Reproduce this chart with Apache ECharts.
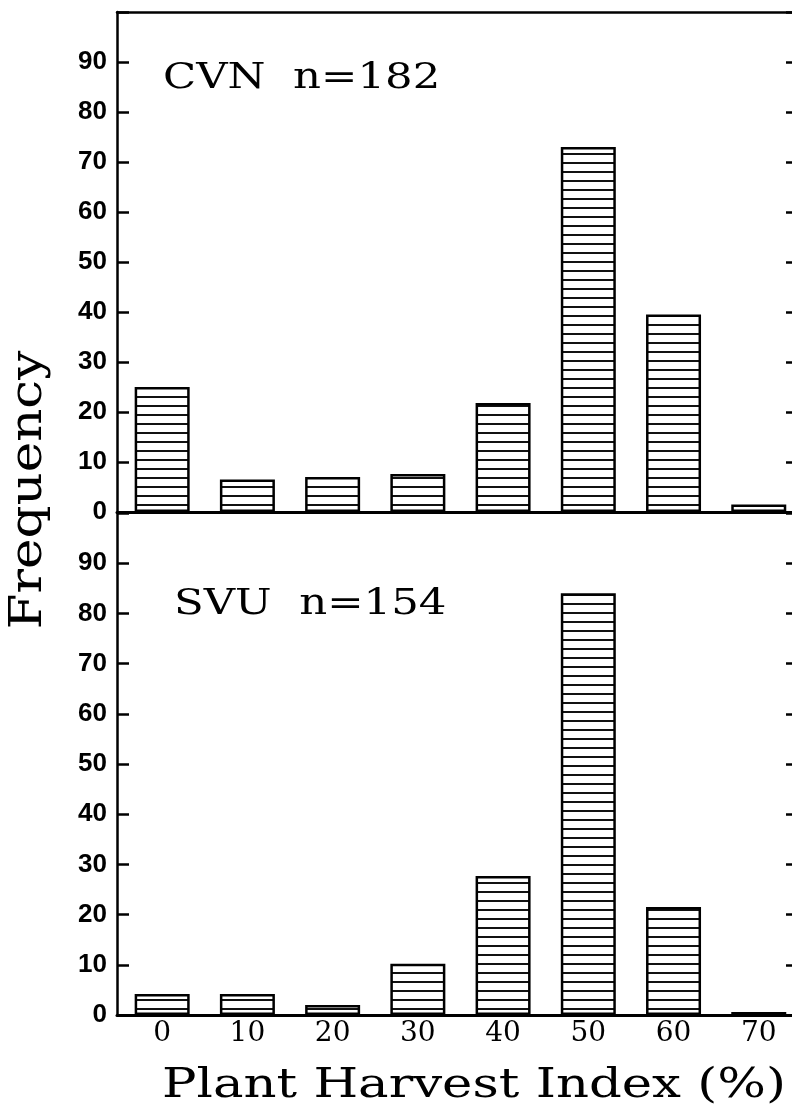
<!DOCTYPE html>
<html>
<head>
<meta charset="utf-8">
<script src="https://cdn.jsdelivr.net/npm/echarts@6/dist/echarts.min.js"></script>
<style>
  html, body { margin: 0; padding: 0; background: #fff; }
  #chart { width: 792px; height: 1104px; }
</style>
</head>
<body>
<div id="chart"></div>
<script>
// harvest index classes (%)
const classes = [0, 10, 20, 30, 40, 50, 60, 70]
const yTicks = [0, 10, 20, 30, 40, 50, 60, 70, 80, 90]
// frequencies
const cvnFreq = [25, 6.5, 7, 7.6, 21.8, 73, 39.5, 1.5]
const svuFreq = [4.2, 4.2, 2, 10.2, 27.7, 84, 21.5, 0.6]
const cvnLabel = 'CVN  n=182'
const svuLabel = 'SVU  n=154'

const chart = echarts.init(document.getElementById('chart'))

// horizontal hatch fill
const makeHatch = () => {
  const c = document.createElement('canvas')
  c.width = 8
  c.height = 9
  const ctx = c.getContext('2d')
  ctx.fillStyle = '#fff'
  ctx.fillRect(0, 0, 8, 9)
  ctx.fillStyle = '#111'
  ctx.fillRect(0, 0, 8, 2)
  return c
}
const hatch = { image: makeHatch(), repeat: 'repeat' }

const serifFont = '"DejaVu Serif", "Liberation Serif", serif'
const sansFont = '"Liberation Sans", Arial, sans-serif'

const xBase = {
  type: 'value',
  min: -5.3,
  max: 73.9,
  splitLine: { show: false },
  axisTick: { show: false },
}

const leftY = {
  type: 'value',
  min: 0,
  max: 100,
  interval: 10,
  splitLine: { show: false },
  axisLine: { show: true, onZero: false, lineStyle: { color: '#000', width: 2.5 } },
  axisTick: { inside: true, length: 12, lineStyle: { color: '#000', width: 2.5 } },
  axisLabel: {
    margin: 10,
    color: '#000',
    fontFamily: sansFont,
    fontWeight: 'bold',
    fontSize: 26,
    formatter: v => (yTicks.includes(v) ? String(v) : ''),
  },
}

const rightY = {
  type: 'value',
  position: 'right',
  min: 0,
  max: 100,
  interval: 10,
  splitLine: { show: false },
  axisLine: { show: false, onZero: false },
  axisTick: { show: true, inside: true, length: 6, lineStyle: { color: '#000', width: 2.5 } },
  axisLabel: { show: false },
}

const barStyle = {
  color: hatch,
  borderColor: '#000',
  borderWidth: 2.5,
}

// stretched serif text, like the typewriter-ish lettering of the original
const label = (text, x, y, size, sx, opts = {}) => ({
  type: 'text',
  x,
  y,
  scaleX: sx,
  rotation: opts.rotation || 0,
  style: {
    text,
    fill: '#000',
    font: size + 'px ' + serifFont,
    align: opts.align || 'left',
    verticalAlign: 'middle',
  },
})

const option = {
  backgroundColor: '#fff',
  animation: false,
  grid: [
    { left: 117, right: 0, top: 12, height: 500 },
    { left: 117, right: 0, top: 513, height: 502 },
  ],
  xAxis: [
    {
      ...xBase,
      gridIndex: 0,
      position: 'bottom',
      axisLine: { show: true, onZero: false, lineStyle: { color: '#000', width: 3 } },
      axisLabel: { show: false },
    },
    {
      ...xBase,
      gridIndex: 0,
      position: 'top',
      axisLine: { show: true, onZero: false, lineStyle: { color: '#000', width: 2.5 } },
      axisLabel: { show: false },
    },
    {
      ...xBase,
      gridIndex: 1,
      position: 'bottom',
      axisLine: { show: true, onZero: false, lineStyle: { color: '#000', width: 3 } },
      axisLabel: {
        customValues: classes,
        margin: 5,
        color: '#000',
        fontFamily: serifFont,
        fontSize: 28,
        formatter: v => String(v),
      },
    },
  ],
  yAxis: [
    { ...leftY, gridIndex: 0 },
    { ...rightY, gridIndex: 0 },
    { ...leftY, gridIndex: 1 },
    { ...rightY, gridIndex: 1 },
  ],
  series: [
    {
      type: 'bar',
      xAxisIndex: 0,
      yAxisIndex: 0,
      barWidth: 55,
      itemStyle: barStyle,
      data: classes.map((c, i) => [c, cvnFreq[i]]),
    },
    {
      type: 'bar',
      xAxisIndex: 2,
      yAxisIndex: 2,
      barWidth: 55,
      itemStyle: barStyle,
      data: classes.map((c, i) => [c, svuFreq[i]]),
    },
  ],
  graphic: [
    label(cvnLabel, 163, 79, 35, 1.24),
    label(svuLabel, 174, 605, 35, 1.24),
    label('Frequency', 30, 490, 44, 1.17, { align: 'center', rotation: Math.PI / 2 }),
    label('Plant Harvest Index (%)', 474, 1086, 41, 1.25, { align: 'center' }),
  ],
}

chart.setOption(option)
</script>
</body>
</html>
